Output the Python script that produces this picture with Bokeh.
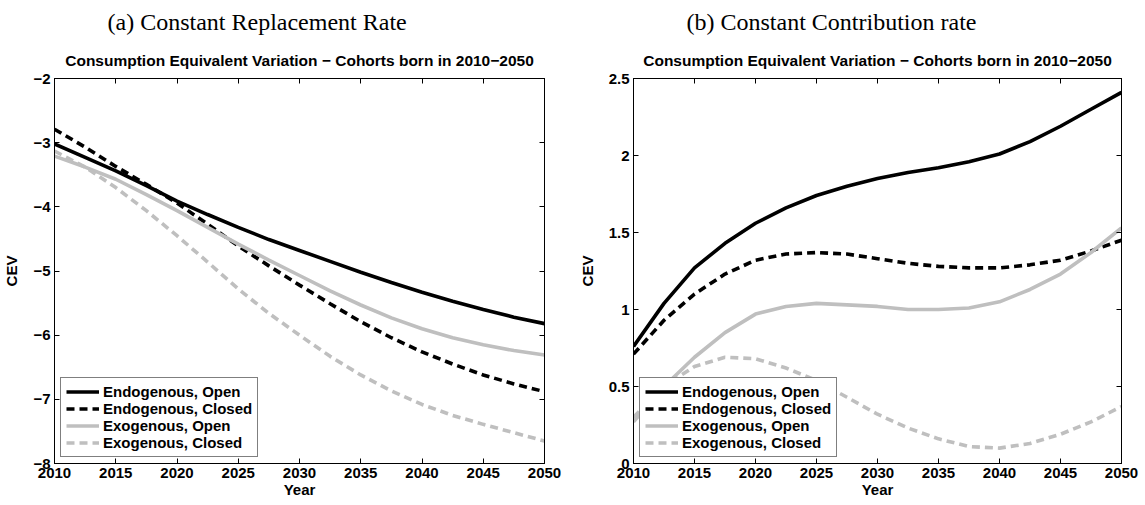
from bokeh.plotting import figure
from bokeh.models import Range1d, FixedTicker, LinearAxis, Title
from bokeh.layouts import row
from bokeh.embed import file_html
from bokeh.resources import INLINE

# ---------------- data ----------------
years = [2010, 2012.5, 2015, 2017.5, 2020, 2022.5, 2025, 2027.5, 2030,
         2032.5, 2035, 2037.5, 2040, 2042.5, 2045, 2047.5, 2050]

# (a) Constant Replacement Rate
a_endo_open = [-3.02, -3.23, -3.44, -3.67, -3.91, -4.12, -4.32, -4.51, -4.68,
               -4.85, -5.02, -5.18, -5.33, -5.47, -5.60, -5.72, -5.82]
a_endo_closed = [-2.79, -3.07, -3.37, -3.65, -3.94, -4.27, -4.61, -4.92, -5.22,
                 -5.51, -5.79, -6.04, -6.26, -6.45, -6.62, -6.76, -6.88]
a_exo_open = [-3.21, -3.38, -3.57, -3.81, -4.06, -4.32, -4.58, -4.83, -5.07,
              -5.31, -5.53, -5.73, -5.90, -6.04, -6.15, -6.24, -6.31]
a_exo_closed = [-3.13, -3.38, -3.70, -4.06, -4.45, -4.86, -5.28, -5.66, -6.00,
                -6.33, -6.62, -6.87, -7.08, -7.25, -7.39, -7.52, -7.65]

# (b) Constant Contribution rate
b_endo_open = [0.76, 1.04, 1.27, 1.43, 1.56, 1.66, 1.74, 1.80, 1.85,
               1.89, 1.92, 1.96, 2.01, 2.09, 2.19, 2.30, 2.41]
b_endo_closed = [0.71, 0.93, 1.10, 1.23, 1.32, 1.36, 1.37, 1.36, 1.33,
                 1.30, 1.28, 1.27, 1.27, 1.29, 1.32, 1.38, 1.45]
b_exo_open = [0.27, 0.50, 0.69, 0.85, 0.97, 1.02, 1.04, 1.03, 1.02,
              1.00, 1.00, 1.01, 1.05, 1.13, 1.23, 1.37, 1.53]
b_exo_closed = [0.30, 0.50, 0.63, 0.69, 0.68, 0.62, 0.54, 0.43, 0.32,
                0.23, 0.16, 0.11, 0.10, 0.13, 0.19, 0.27, 0.37]

series_names = ["Endogenous, Open", "Endogenous, Closed",
                "Exogenous, Open", "Exogenous, Closed"]

x_ticks = [2010, 2015, 2020, 2025, 2030, 2035, 2040, 2045, 2050]
a_y_ticks = [-8, -7, -6, -5, -4, -3, -2]
a_y_labels = ["\u22128", "\u22127", "\u22126", "\u22125", "\u22124", "\u22123", "\u22122"]
b_y_ticks = [0, 0.5, 1, 1.5, 2, 2.5]
b_y_labels = ["0", "0.5", "1", "1.5", "2", "2.5"]

chart_title = "Consumption Equivalent Variation \u2212 Cohorts born in 2010\u22122050"
caption_a = "(a)  Constant Replacement Rate"
caption_b = "(b)  Constant Contribution rate"

FONT = "Liberation Sans"
GREY = "#bfbfbf"
styles = [("black", None), ("black", "8 5"), (GREY, None), (GREY, "8 5")]


def make_panel(caption, ys, yr, yticks, ylabels, width, bl, br, bb):
    p = figure(width=width, height=502, output_backend="svg", toolbar_location=None,
               x_range=Range1d(2010, 2050), y_range=Range1d(*yr),
               title=caption,
               min_border_left=bl, min_border_right=br,
               min_border_top=78, min_border_bottom=bb)
    p.grid.visible = False
    p.outline_line_color = "black"
    p.outline_line_width = 1

    # outer caption (sub-figure label)
    p.title.align = "left"
    p.title.offset = 53
    p.title.text_font = "Liberation Serif"
    p.title.text_font_style = "normal"
    p.title.text_font_size = "24px"
    p.title.text_color = "black"
    p.title.standoff = 9

    for y, name, (col, dash) in zip(ys, series_names, styles):
        kw = dict(line_color=col, line_width=3.6, legend_label=name)
        if dash:
            kw["line_dash"] = dash
        p.line(years, y, **kw)

    xa = p.xaxis[0]
    xa.ticker = FixedTicker(ticks=x_ticks)
    xa.axis_label = "Year"
    ya = p.yaxis[0]
    ya.ticker = FixedTicker(ticks=yticks)
    ya.major_label_overrides = {t: l for t, l in zip(yticks, ylabels)}
    ya.axis_label = "CEV"
    for ax in (xa, ya):
        ax.major_tick_in = 5
        ax.major_tick_out = 0
        ax.minor_tick_line_color = None
        ax.axis_line_color = "black"
        ax.major_tick_line_color = "black"
        ax.major_label_text_font = FONT
        ax.major_label_text_font_style = "bold"
        ax.major_label_text_font_size = "15px"
        ax.major_label_text_color = "black"
        ax.axis_label_text_font = FONT
        ax.axis_label_text_font_style = "bold"
        ax.axis_label_text_font_size = "15px"
        ax.axis_label_text_color = "black"
    xa.major_label_standoff = 4
    xa.axis_label_standoff = 0
    ya.major_label_standoff = 4
    ya.axis_label_standoff = 10

    # mirrored axes (ticks only, labels not painted)
    top = LinearAxis(ticker=FixedTicker(ticks=x_ticks), major_label_text_font_size="1px",
                     major_label_text_color=None,
                     major_tick_in=5, major_tick_out=0, minor_tick_line_color=None,
                     major_label_standoff=0, axis_line_color="black")
    right = LinearAxis(ticker=FixedTicker(ticks=yticks), major_label_text_font_size="1px",
                       major_label_text_color=None,
                       major_tick_in=5, major_tick_out=0, minor_tick_line_color=None,
                       major_label_standoff=0, axis_line_color="black")
    p.add_layout(top, "above")
    p.add_layout(right, "right")

    # inner chart title
    p.add_layout(Title(text=chart_title, align="center", text_font=FONT,
                       text_font_style="bold", text_font_size="15.5px",
                       text_color="black", standoff=20), "above")

    lg = p.legend[0]
    lg.location = "bottom_left"
    lg.border_line_color = "black"
    lg.border_line_width = 1
    lg.background_fill_alpha = 1
    lg.label_text_font = FONT
    lg.label_text_font_style = "bold"
    lg.label_text_font_size = "15px"
    lg.label_text_color = "black"
    lg.glyph_width = 33
    lg.glyph_height = 17
    lg.label_height = 17
    lg.label_standoff = 4
    lg.spacing = 0
    lg.padding = 5
    lg.margin = 6
    return p


p1 = make_panel(caption_a, [a_endo_open, a_endo_closed, a_exo_open, a_exo_closed],
                (-8, -2), a_y_ticks, a_y_labels, 575, 52, 31, 36)
p2 = make_panel(caption_b, [b_endo_open, b_endo_closed, b_exo_open, b_exo_closed],
                (0, 2.5), b_y_ticks, b_y_labels, 570, 57, 24, 39)

layout = row(p1, p2)
open("out.html", "w").write(file_html(layout, INLINE))
